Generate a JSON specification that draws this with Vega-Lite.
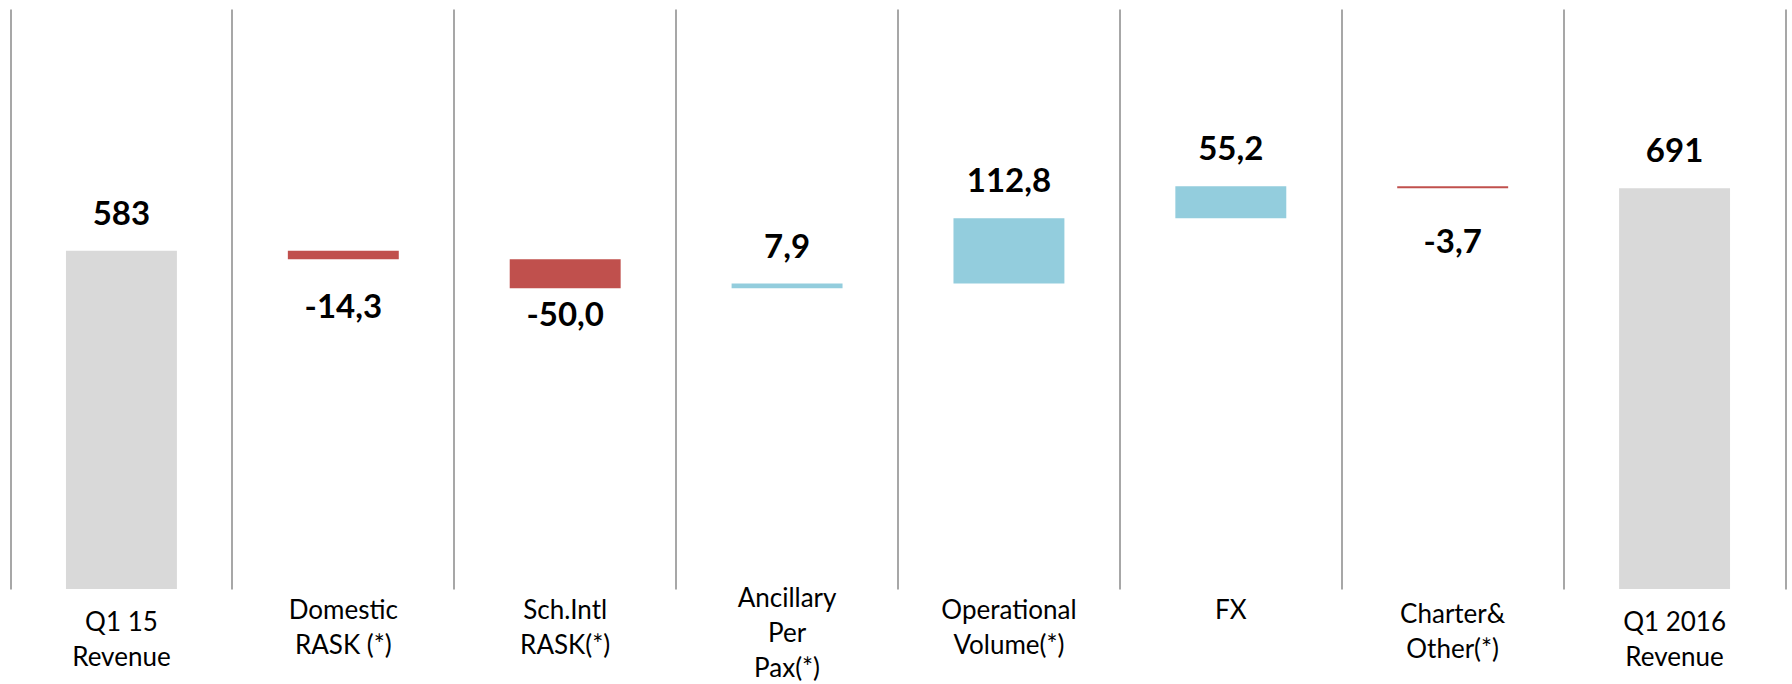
{
  "$schema": "https://vega.github.io/schema/vega-lite/v6.json",
  "width": 1775,
  "height": 580,
  "autosize": {"type": "none"},
  "padding": {"left": 10.5, "top": 9, "right": 6.5, "bottom": 95},
  "background": "white",
  "config": {"view": {"stroke": null}},
  "data": {
    "values": [
      {"cat": "Q1 15\nRevenue", "type": "total", "amount": 583, "start": 0, "end": 583, "label": "583"},
      {"cat": "Domestic\nRASK (*)", "type": "decrease", "amount": -14.3, "start": 583, "end": 568.7, "label": "-14,3"},
      {"cat": "Sch.Intl\nRASK(*)", "type": "decrease", "amount": -50.0, "start": 568.7, "end": 518.7, "label": "-50,0"},
      {"cat": "Ancillary\nPer\nPax(*)", "type": "increase", "amount": 7.9, "start": 518.7, "end": 526.6, "label": "7,9"},
      {"cat": "Operational\nVolume(*)", "type": "increase", "amount": 112.8, "start": 526.6, "end": 639.4, "label": "112,8"},
      {"cat": "FX", "type": "increase", "amount": 55.2, "start": 639.4, "end": 694.6, "label": "55,2"},
      {"cat": "Charter&\nOther(*)", "type": "decrease", "amount": -3.7, "start": 694.6, "end": 690.9, "label": "-3,7"},
      {"cat": "Q1 2016\nRevenue", "type": "total", "amount": 691, "start": 0, "end": 691, "label": "691"}
    ]
  },
  "encoding": {
    "x": {
      "field": "cat",
      "type": "nominal",
      "sort": null,
      "scale": {"paddingInner": 0, "paddingOuter": 0},
      "axis": {
        "title": null,
        "grid": true,
        "bandPosition": 0,
        "gridColor": "#8a8a8a",
        "gridWidth": 1.5,
        "domain": false,
        "ticks": false,
        "labelAngle": 0,
        "labelFont": "Lato",
        "labelFontSize": 26,
        "labelColor": "#000000",
        "labelPadding": 29,
        "labelBaseline": "alphabetic",
        "labelLineHeight": 35,
        "labelLimit": 300,
        "labelExpr": "split(datum.label, '\\n')",
        "encoding": {
          "labels": {
            "dy": {
              "condition": [
                {"test": "indexof(datum.value, 'Q1') === 0", "value": 12},
                {"test": "indexof(datum.value, 'Ancillary') === 0", "value": -12},
                {"test": "indexof(datum.value, 'Charter') === 0", "value": 4}
              ],
              "value": 0
            }
          }
        }
      }
    }
  },
  "layer": [
    {
      "mark": {"type": "bar", "width": {"band": 0.5}},
      "encoding": {
        "y": {
          "field": "start",
          "type": "quantitative",
          "scale": {"domain": [0, 1000], "nice": false},
          "axis": {
            "orient": "right",
            "title": null,
            "labels": false,
            "ticks": false,
            "grid": false,
            "domain": true,
            "domainColor": "#8a8a8a",
            "domainWidth": 1.5
          }
        },
        "y2": {"field": "end"},
        "color": {
          "field": "type",
          "type": "nominal",
          "scale": {"domain": ["total", "decrease", "increase"], "range": ["#d9d9d9", "#c0504d", "#93cddd"]},
          "legend": null
        }
      }
    },
    {
      "transform": [{"filter": "datum.type !== 'decrease'"}],
      "mark": {"type": "text", "font": "Lato", "fontWeight": "bold", "fontSize": 33, "baseline": "alphabetic", "align": "center", "dy": -26, "color": "#000000"},
      "encoding": {
        "y": {"field": "end", "type": "quantitative"},
        "text": {"field": "label"}
      }
    },
    {
      "transform": [{"filter": "datum.type === 'decrease'"}],
      "mark": {"type": "text", "font": "Lato", "fontWeight": "bold", "fontSize": 33, "baseline": "alphabetic", "align": "center", "dy": 67, "color": "#000000"},
      "encoding": {
        "y": {"field": "start", "type": "quantitative"},
        "text": {"field": "label"}
      }
    }
  ]
}
